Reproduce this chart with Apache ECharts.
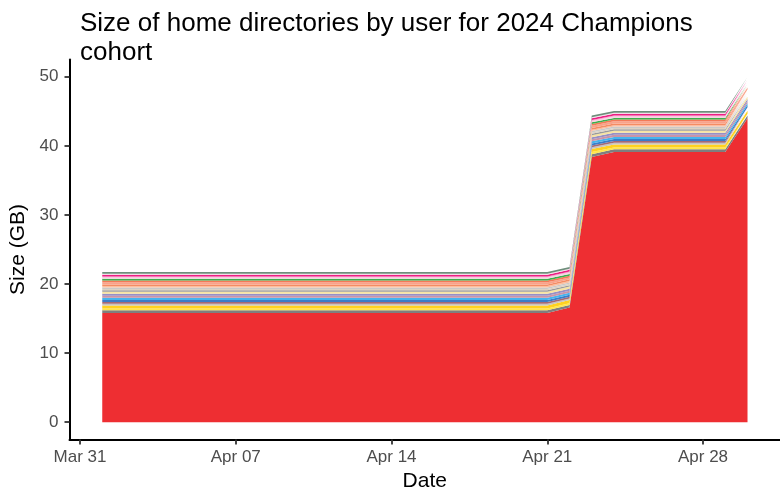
<!DOCTYPE html>
<html>
<head>
<meta charset="utf-8">
<script src="https://cdn.jsdelivr.net/npm/echarts@6/dist/echarts.min.js"></script>
<style>html,body{margin:0;padding:0;background:#fff;}#c{width:780px;height:493px;}</style>
</head>
<body>
<div id="c"></div>
<script>
// ---- data ----
const dates = ['2024-04-01','2024-04-21','2024-04-22','2024-04-23','2024-04-24','2024-04-29','2024-04-30'];
const userNames = ['user01','user02','user03','user04','user05','user06','user07','user08','user09','user10','user11','user12','user13','user14','user15','user16','user17','user18','user19','user20','user21','user22','user23','user24'];
const userColors = ['#EE2E32','#7F7F7F','#FFE74C','#FFD21F','#C8C4C0','#A46A75','#3A7DC9','#45B4EE','#C994A8','#978FC6','#F7E3A1','#9A9A9A','#DDD2C2','#C9C9C9','#FBBFA0','#F58C63','#F9A38A','#F37A58','#3DAE4B','#F4D6E4','#F8A8CC','#EC1E83','#F3E1EA','#6E8E7B'];
const u01 = [15.8,15.8,16.6,38.4,39.1,39.1,44.0];
const u02 = [0.40,0.40,0.38,0.40,0.40,0.40,0.40];
const u03 = [0.25,0.25,0.25,0.30,0.25,0.25,0.25];
const u04 = [0.45,0.45,0.45,0.45,0.45,0.45,0.45];
const u05 = [0.25,0.25,0.22,0.25,0.25,0.25,0.25];
const u06 = [0.25,0.25,0.25,0.25,0.25,0.25,0.25];
const u07 = [0.30,0.30,0.30,0.30,0.30,0.30,0.30];
const u08 = [0.30,0.30,0.30,0.30,0.30,0.30,0.30];
const u09 = [0.30,0.30,0.28,0.30,0.30,0.30,0.30];
const u10 = [0.30,0.30,0.30,0.30,0.30,0.30,0.30];
const u11 = [0.30,0.30,0.30,0.30,0.30,0.30,0.30];
const u12 = [0.20,0.20,0.20,0.20,0.20,0.20,0.20];
const u13 = [0.20,0.20,0.20,0.20,0.20,0.20,0.20];
const u14 = [0.20,0.20,0.20,0.20,0.20,0.20,0.20];
const u15 = [0.20,0.20,0.20,0.20,0.20,0.20,0.20];
const u16 = [0.25,0.25,0.25,0.25,0.25,0.25,0.25];
const u17 = [0.30,0.30,0.28,0.30,0.30,0.30,0.30];
const u18 = [0.25,0.25,0.25,0.25,0.25,0.25,0.25];
const u19 = [0.25,0.25,0.25,0.25,0.25,0.25,0.25];
const u20 = [0.20,0.20,0.20,0.20,0.20,0.20,0.20];
const u21 = [0.15,0.15,0.15,0.15,0.15,0.15,0.15];
const u22 = [0.25,0.25,0.25,0.25,0.25,0.25,0.25];
const u23 = [0.15,0.15,0.15,0.15,0.15,0.15,0.15];
const u24 = [0.25,0.25,0.25,0.25,0.25,0.25,0.25];
const userValues = [u01,u02,u03,u04,u05,u06,u07,u08,u09,u10,u11,u12,u13,u14,u15,u16,u17,u18,u19,u20,u21,u22,u23,u24];
const xTickDates = ['2024-03-31','2024-04-07','2024-04-14','2024-04-21','2024-04-28'];
const yTicks = [0,10,20,30,40,50];

// ---- helpers ----
function toTs(s){ const p=s.split('-').map(Number); return Date.UTC(p[0],p[1]-1,p[2]); }
const DAY = 86400000;
const MON = ['Jan','Feb','Mar','Apr','May','Jun','Jul','Aug','Sep','Oct','Nov','Dec'];
const xTicks = xTickDates.map(toTs);
const base = toTs('2024-03-31');

// data rows are [size, date] so that the size column is the one the library stacks
const series = userNames.map((n,i)=>({
  name:n, type:'line', stack:'total', symbol:'none', showSymbol:false,
  encode:{x:1, y:0},
  lineStyle:{width:0}, areaStyle:{color:userColors[i], opacity:1},
  itemStyle:{color:userColors[i]},
  data: dates.map((d,j)=>[userValues[i][j], toTs(d)]),
  silent:true
}));

const font = 'Liberation Sans, Arial, Helvetica, sans-serif';
const chart = echarts.init(document.getElementById('c'), null, {renderer:'canvas'});
chart.setOption({
  animation:false,
  backgroundColor:'#fff',
  title:{
    text:'Size of home directories by user for 2024 Champions\ncohort',
    left:75, top:4,
    textStyle:{fontSize:26, fontWeight:'normal', color:'#000', fontFamily:font, lineHeight:29}
  },
  grid:{left:69.5, right:0, top:59.5, bottom:53.5, containLabel:false, outerBoundsMode:'none'},
  xAxis:{
    type:'value',
    min: base - 0.472*DAY,
    max: base + 31.46*DAY,
    name:'Date', nameLocation:'middle', nameGap:30,
    nameTextStyle:{fontSize:21, color:'#000', fontFamily:font},
    axisLine:{show:true, onZero:false, lineStyle:{color:'#000', width:2}},
    axisTick:{show:true, length:5, lineStyle:{color:'#333', width:1.8}, customValues:xTicks},
    axisLabel:{fontSize:17, color:'#4d4d4d', fontFamily:font, margin:9, customValues:xTicks, showMinLabel:true, showMaxLabel:true,
      formatter:function(v){ const d=new Date(v); const dd=d.getUTCDate(); return MON[d.getUTCMonth()]+' '+(dd<10?'0'+dd:dd); }},
    splitLine:{show:false}, minorTick:{show:false}
  },
  yAxis:{
    type:'value', min:-2.5, max:52.5,
    name:'Size (GB)', nameLocation:'middle', nameGap:38, nameRotate:90,
    nameTextStyle:{fontSize:21, color:'#000', fontFamily:font},
    axisLine:{show:true, onZero:false, lineStyle:{color:'#000', width:2}},
    axisTick:{show:true, length:5, lineStyle:{color:'#333', width:1.8}, customValues:yTicks},
    axisLabel:{fontSize:17, color:'#4d4d4d', fontFamily:font, margin:11, customValues:yTicks},
    splitLine:{show:false}
  },
  series: series
});
</script>
</body>
</html>
